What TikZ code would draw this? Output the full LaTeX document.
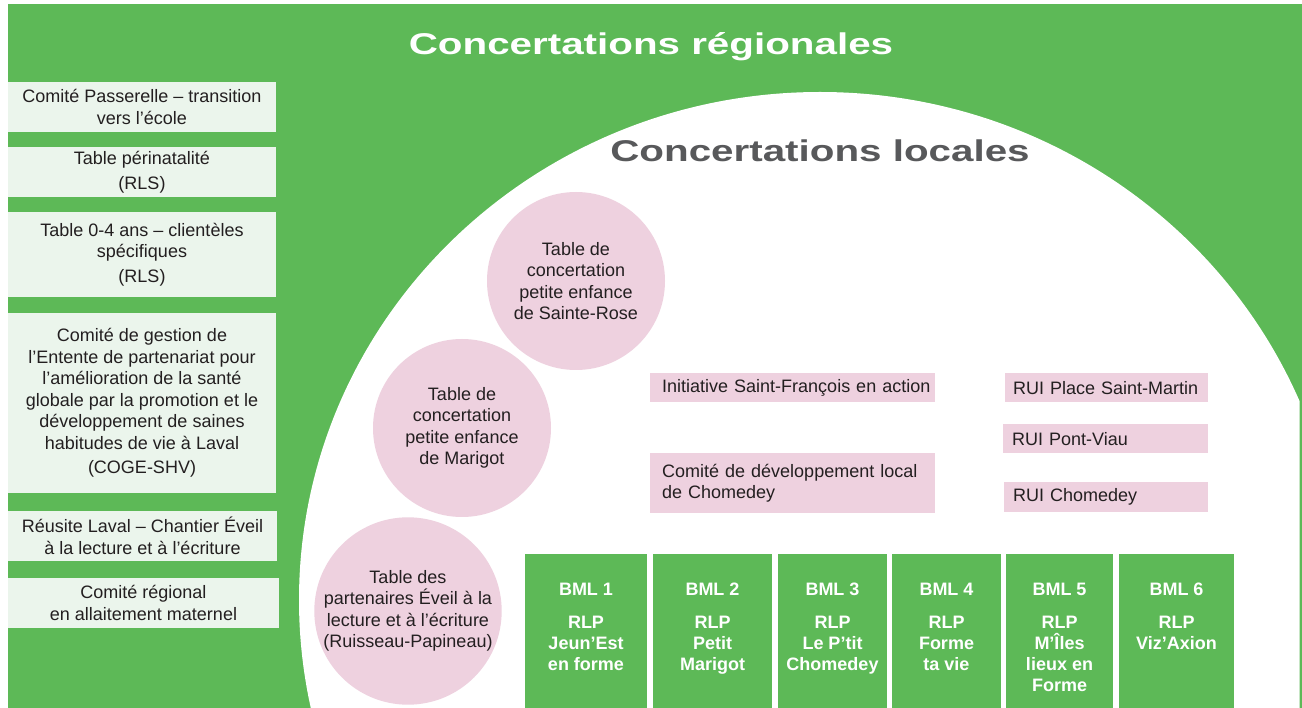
\documentclass[tikz,border=0pt]{standalone}
\usepackage{fontspec}
\setmainfont{Liberation Sans}
\newfontfamily\titlefont[FakeStretch=1.345]{Liberation Sans}
\definecolor{mgreen}{HTML}{5DB957}
\definecolor{lgreen}{HTML}{EBF5EC}
\definecolor{pinkc}{HTML}{EED1DF}
\definecolor{txt}{HTML}{231F20}
\definecolor{ttlgray}{HTML}{58595B}
\begin{document}
\begin{tikzpicture}[x=1pt,y=-1pt,
  basetxt/.style={font=\fontsize{18}{21.5}\selectfont, text=txt, inner sep=0pt},
  lbox/.style={basetxt, fill=lgreen, minimum width=268pt, align=center},
  pcirc/.style={basetxt, circle, fill=pinkc, minimum size=178pt, align=center},
  prect/.style={basetxt, fill=pinkc, anchor=north west, align=left, inner xsep=12pt, minimum height=29pt},
  bml/.style={fill=mgreen, anchor=north, inner sep=0pt, text=white, font=\fontsize{18}{21}\selectfont\bfseries},
  ttl/.style={anchor=base, inner sep=0pt, font=\titlefont\fontsize{30}{36}\selectfont\bfseries}]
\useasboundingbox (0,0) rectangle (1302,708);
\fill[white] (0,0) rectangle (1302,708);
\fill[mgreen] (8,4) rectangle (1301.5,708);
\begin{scope}
  \clip (8,4) rectangle (1299.5,708);
  \fill[white] (820,600) ellipse [x radius=521, y radius=508];
\end{scope}

% titles
\node[ttl, text=white] (treg) at (651,55) {Concertations régionales};
\node[ttl, text=ttlgray] (tloc) at (820,162) {Concertations locales};

% left boxes (regional)
\node[lbox, minimum height=50pt] (l1) at (142,107) {Comité Passerelle – transition\\vers l’école};
\node[lbox, minimum height=50pt] (l2) at (142,172) {Table périnatalité\\[4pt](RLS)};
\node[lbox, minimum height=85pt] (l3) at (142,254.5) {Table 0-4 ans – clientèles\\spécifiques\\[3pt](RLS)};
\node[lbox, minimum height=180pt] (l4) at (142,403) {Comité de gestion de\\l’Entente de partenariat pour\\l’amélioration de la santé\\globale par la promotion et le\\développement de saines\\habitudes de vie à Laval\\[3pt](COGE-SHV)};
\node[lbox, minimum height=50pt, minimum width=269pt] (l5) at (142.5,536) {Réusite Laval – Chantier Éveil\\à la lecture et à l’écriture};
\node[lbox, minimum height=50pt, minimum width=271pt] (l6) at (143.5,603) {Comité régional\\en allaitement maternel};

% circles
\node[pcirc] (c1) at (576,281) {Table de\\concertation\\petite enfance\\de Sainte-Rose};
\node[pcirc] (c2) at (462,428) {Table de\\concertation\\petite enfance\\de Marigot};
\node[pcirc] (c3) at (408,611) {Table des\\partenaires Éveil à la\\lecture et à l’écriture\\(Ruisseau-Papineau)};

% pink rectangles
\node[prect, text width=261pt] (r1) at (650,373) {\mbox{Initiative Saint-François en action}};
\node[prect, text width=261pt, minimum height=60pt] (r2) at (650,453) {Comité de développement local\\de Chomedey};
\node[prect, text width=187pt, inner xsep=8pt] (r3) at (1005,373) {RUI Place Saint-Martin};
\node[prect, text width=187pt, inner xsep=9pt] (r4) at (1003,424) {RUI Pont-Viau};
\node[prect, text width=186pt, inner xsep=9pt, minimum height=30pt] (r5) at (1004,482) {RUI Chomedey};

% BML boxes
\node[bml] (b1) at (586,554) {\parbox[c][154pt][t]{122pt}{\centering\vspace*{29pt}BML 1\\[12pt]RLP\\Jeun’Est\\en forme}};
\node[bml] (b2) at (712.5,554) {\parbox[c][154pt][t]{119pt}{\centering\vspace*{29pt}BML 2\\[12pt]RLP\\Petit\\Marigot}};
\node[bml] (b3) at (832.5,554) {\parbox[c][154pt][t]{109pt}{\centering\vspace*{29pt}BML 3\\[12pt]RLP\\Le P’tit\\Chomedey}};
\node[bml] (b4) at (946.5,554) {\parbox[c][154pt][t]{109pt}{\centering\vspace*{29pt}BML 4\\[12pt]RLP\\Forme\\ta vie}};
\node[bml] (b5) at (1059.5,554) {\parbox[c][154pt][t]{107pt}{\centering\vspace*{29pt}BML 5\\[12pt]RLP\\M’Îles\\lieux en\\Forme}};
\node[bml] (b6) at (1176.5,554) {\parbox[c][154pt][t]{115pt}{\centering\vspace*{29pt}BML 6\\[12pt]RLP\\Viz’Axion}};
\end{tikzpicture}
\end{document}
